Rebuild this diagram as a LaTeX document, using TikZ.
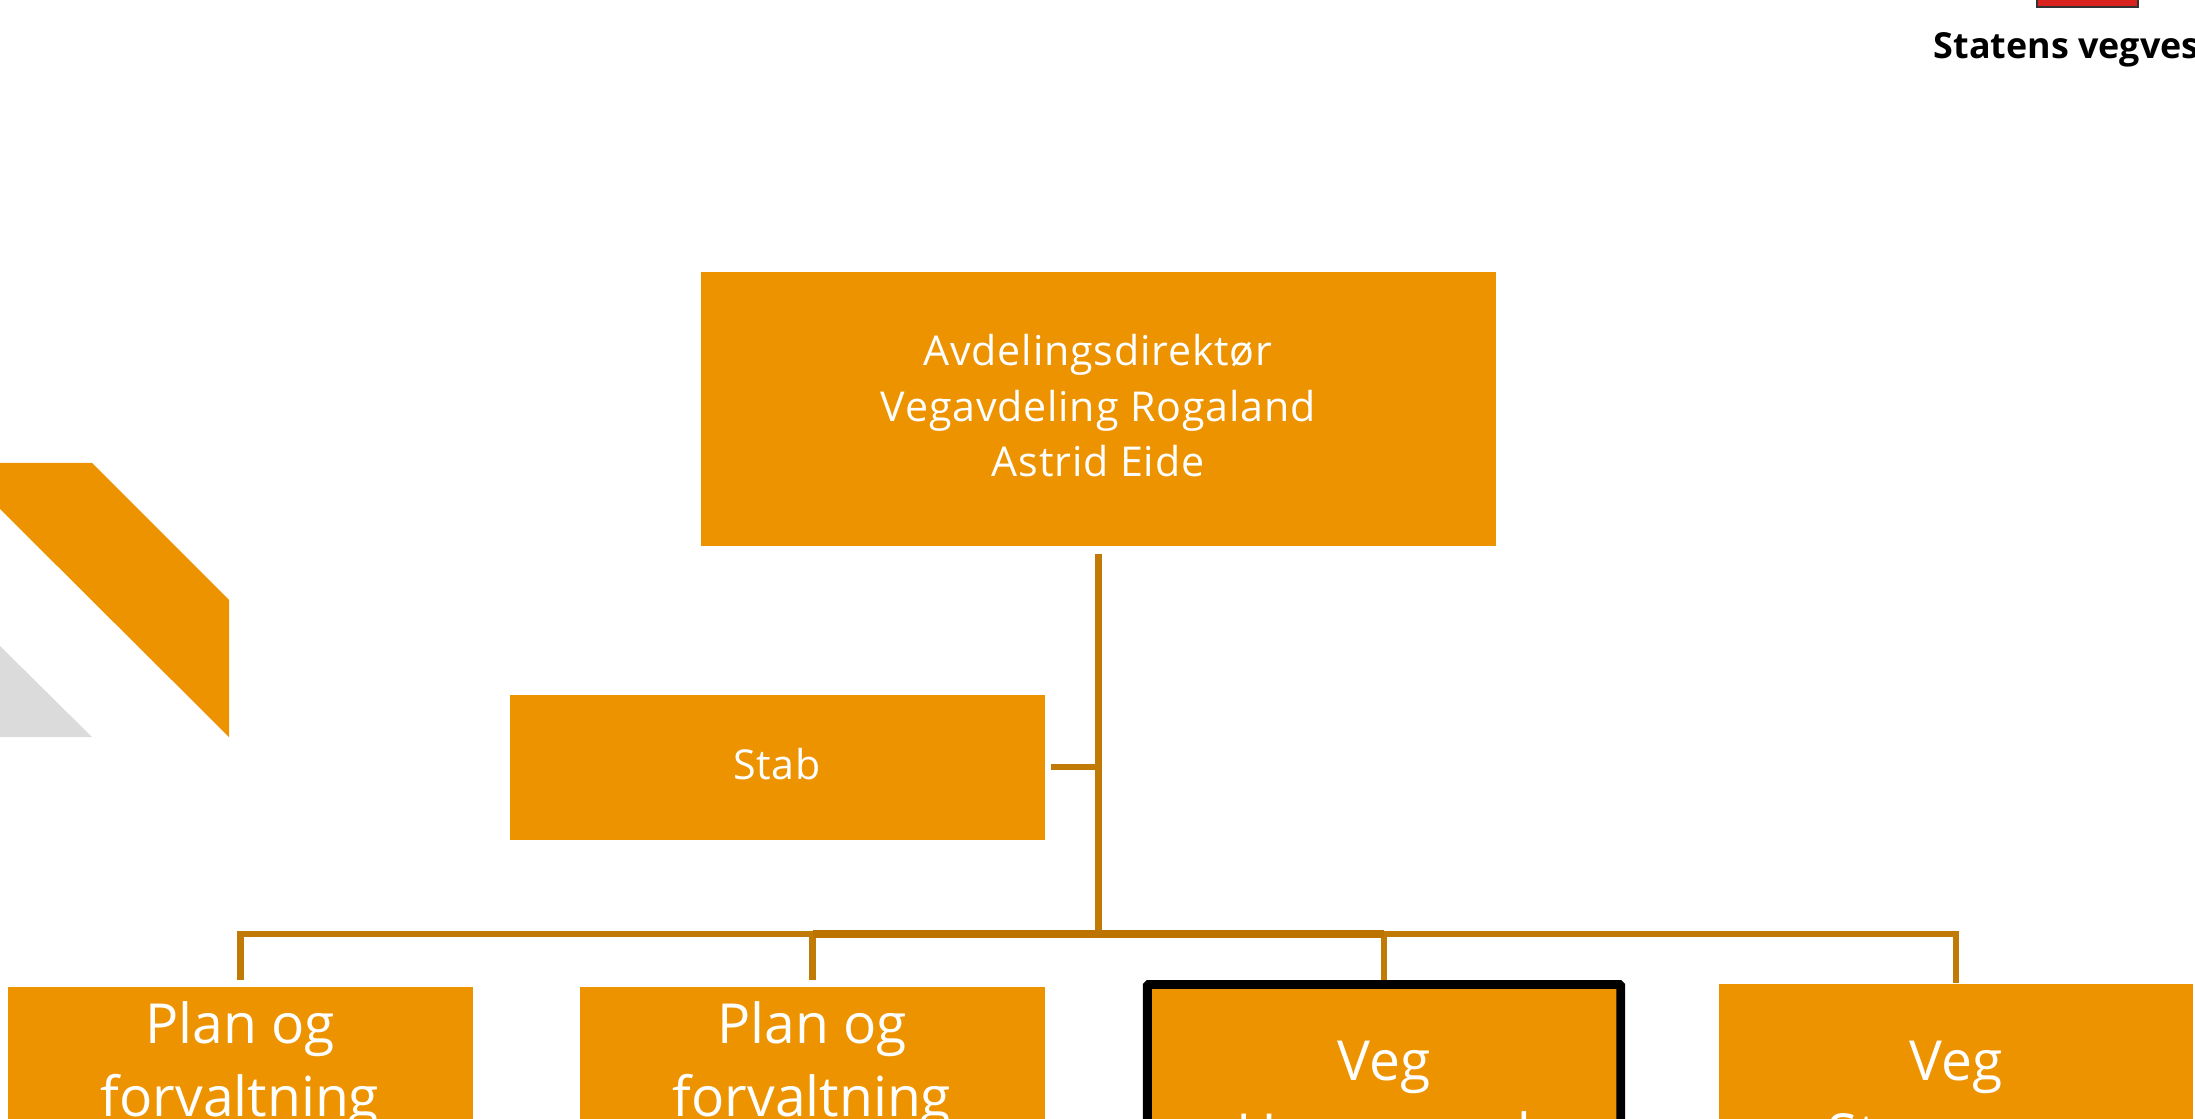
\documentclass[tikz,border=0pt]{standalone}
\usepackage{xcolor}
\usepackage{fontspec}
\setmainfont{Open Sans}
\usepackage{tikz}
\usetikzlibrary{positioning,calc}
\definecolor{vegorange}{HTML}{ED9300}
\definecolor{linkbrown}{HTML}{C07A05}
\definecolor{linkdark}{HTML}{BC7300}
\definecolor{wedgegrey}{HTML}{DBDBDB}
\definecolor{logored}{HTML}{D9231F}
\tikzset{
  unitbox/.style={fill=vegorange,text=white,align=center,inner sep=0pt},
  smallcaption/.style={anchor=base,text=white,align=center,inner sep=0pt,font=\fontsize{11.7}{15.9}\selectfont\addfontfeatures{LetterSpace=2}},
  bigcaption/.style={anchor=base,text=white,align=center,inner sep=0pt,font=\fontsize{15.7}{20.5}\selectfont},
  link/.style={draw=linkbrown,line width=1.9pt},
}
\begin{document}
\begin{tikzpicture}[x=.01cm,y=-.01cm]
\useasboundingbox (0,0) rectangle (2195,1119);
% corner wedges
\fill[vegorange] (0,463)--(92,463)--(229,600)--(229,737)--(0,509)--cycle;
\fill[wedgegrey] (0,646)--(92,737)--(0,737)--cycle;
% logo
\begin{scope}
\clip (0,0) rectangle (2195,1119);
\draw[fill=logored,draw=black!80,line width=.4pt] (2037,-20) rectangle (2138,7);
\node[anchor=base west,inner sep=0pt,font=\fontsize{10.2}{12}\selectfont\bfseries] (brand) at (1933,58.5) {Statens vegves};
\end{scope}
% director and staff
\node[unitbox,minimum width=7.95cm,minimum height=2.74cm] (boss) at (1098.5,409) {};
\node[smallcaption] (bosstext) at (1098,477) {Avdelingsdirektør\\Vegavdeling Rogaland\\Astrid Eide};
\node[unitbox,minimum width=5.35cm,minimum height=1.45cm] (stab) at (777.5,767.5) {};
\node[smallcaption] (stabtext) at (777,779) {Stab};
% departments
\begin{scope}
\clip (0,0) rectangle (2195,1119);
\node[unitbox,minimum width=4.65cm,minimum height=2.6cm,anchor=north] (plana) at (240.5,986) {};
\node[unitbox,minimum width=4.65cm,minimum height=2.6cm,anchor=north] (planb) at (812.5,986) {};
\node[unitbox,draw=black,line width=2.5pt,rounded corners=.4pt,minimum width=4.73cm,minimum height=2.6cm,anchor=north] (haug) at (1384,980) {};
\node[unitbox,minimum width=4.74cm,minimum height=2.6cm,anchor=north] (stav) at (1956,983) {};
\node[bigcaption] (planatext) at (240,1116) {Plan og\\forvaltning};
\node[bigcaption] (planbtext) at (812,1116) {Plan og\\forvaltning};
\node[bigcaption] (haugtext) at (1384,1153) {Veg\\Haugesund};
\node[bigcaption] (stavtext) at (1956,1153) {Veg\\Stavanger};
\end{scope}
% connectors
\coordinate (busmid) at (1098.5,934);
\coordinate (stabend) at (1051,767);
\draw[link,shorten <=.07cm] (boss.south) -- (busmid);
\draw[link] (stabend) -- (stabend-|busmid);
\foreach \target in {plana,planb}{\draw[link,shorten >=.06cm] (busmid) -| (\target.north);}
\foreach \target in {haug,stav}{\draw[link] (busmid) -| (\target.north);}
\draw[link,draw=linkdark,line width=2.2pt] (planb.north|-busmid) -- (haug.north|-busmid);
\end{tikzpicture}
\end{document}
